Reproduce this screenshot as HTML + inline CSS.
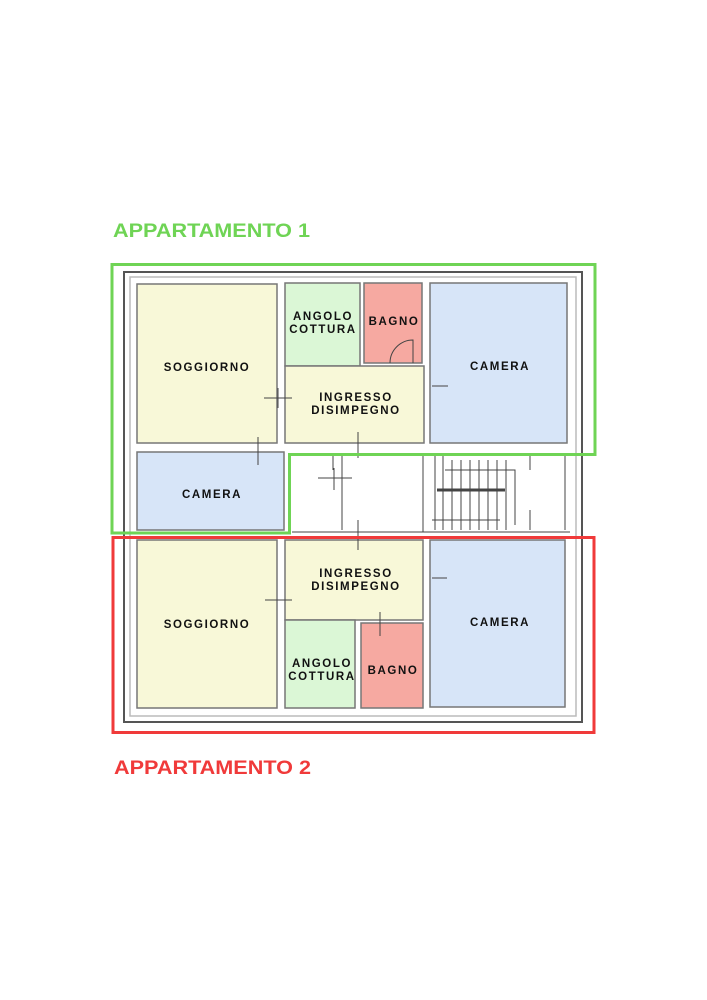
<!DOCTYPE html>
<html><head><meta charset="utf-8"><style>
html,body{margin:0;padding:0;background:#fff;}
svg{display:block;}
text{font-family:"Liberation Sans",sans-serif;}
.l{font-size:11.5px;letter-spacing:1.6px;fill:#111;text-anchor:middle;font-weight:bold;}
</style></head><body>
<svg width="707" height="1000" viewBox="0 0 707 1000" xmlns="http://www.w3.org/2000/svg">
<text x="113" y="237" font-size="19.5" font-weight="bold" fill="#6fd455" textLength="197" lengthAdjust="spacingAndGlyphs">APPARTAMENTO 1</text>
<text x="114" y="774" font-size="19.5" font-weight="bold" fill="#f03a3a" textLength="197" lengthAdjust="spacingAndGlyphs">APPARTAMENTO 2</text>
<rect x="124" y="272" width="458" height="450" fill="#fff" stroke="#555" stroke-width="2"/>
<rect x="130" y="277" width="446" height="439" fill="none" stroke="#bbb" stroke-width="1.5"/>
<g stroke="#777" stroke-width="1.5">
<rect x="137" y="284" width="140" height="159" fill="#f8f8d8"/>
<rect x="285" y="283" width="75" height="83" fill="#dbf7d6"/>
<rect x="364" y="283" width="58" height="80" fill="#f6a9a1"/>
<rect x="285" y="366" width="139" height="77" fill="#f8f8d8"/>
<rect x="430" y="283" width="137" height="160" fill="#d7e5f8"/>
<rect x="137" y="452" width="147" height="78" fill="#d7e5f8"/>
<rect x="137" y="540" width="140" height="168" fill="#f8f8d8"/>
<rect x="285" y="540" width="138" height="80" fill="#f8f8d8"/>
<rect x="285" y="620" width="70" height="88" fill="#dbf7d6"/>
<rect x="361" y="623" width="62" height="85" fill="#f6a9a1"/>
<rect x="430" y="540" width="135" height="167" fill="#d7e5f8"/>
</g>
<g stroke="#444" stroke-width="1" fill="none">
<path d="M292 455 H333 M342 455 V530 M333 455 V470 M342 455 H425 M423 455 V532 M292 532 H570"/>
<path d="M318 478 H352 M334 468 V490"/>
<path d="M358 432 V458 M258 437 V465 M264 398 H292 M278 388 V408 M432 386 H448 M358 520 V550 M265 600 H292 M432 578 H447 M380 612 V636"/>
<path d="M435 455 V530 M443 455 V530 M452 460 V530 M461 460 V530 M470 460 V530 M479 460 V530 M488 460 V530 M497 460 V530 M506 460 V530 M445 470 H515 V525 M432 520 H500 M530 455 V470 M530 510 V530 M565 455 V530"/>
<path d="M437 490 H505" stroke-width="3"/>
<path d="M390 363 A23 23 0 0 1 413 340 V363"/>
</g>
<path d="M112 264.5 H595 V454.5 H289.5 V533 H112 Z" fill="none" stroke="#6fd455" stroke-width="3"/>
<rect x="113" y="537.5" width="481" height="195" fill="none" stroke="#f03a3a" stroke-width="3"/>
<text class="l" x="207" y="371">SOGGIORNO</text>
<text class="l" x="323" y="320">ANGOLO</text>
<text class="l" x="323" y="333">COTTURA</text>
<text class="l" x="394" y="325">BAGNO</text>
<text class="l" x="356" y="401">INGRESSO</text>
<text class="l" x="356" y="414">DISIMPEGNO</text>
<text class="l" x="500" y="370">CAMERA</text>
<text class="l" x="212" y="498">CAMERA</text>
<text class="l" x="356" y="577">INGRESSO</text>
<text class="l" x="356" y="590">DISIMPEGNO</text>
<text class="l" x="207" y="628">SOGGIORNO</text>
<text class="l" x="500" y="626">CAMERA</text>
<text class="l" x="322" y="667">ANGOLO</text>
<text class="l" x="322" y="680">COTTURA</text>
<text class="l" x="393" y="674">BAGNO</text>
</svg>
</body></html>
